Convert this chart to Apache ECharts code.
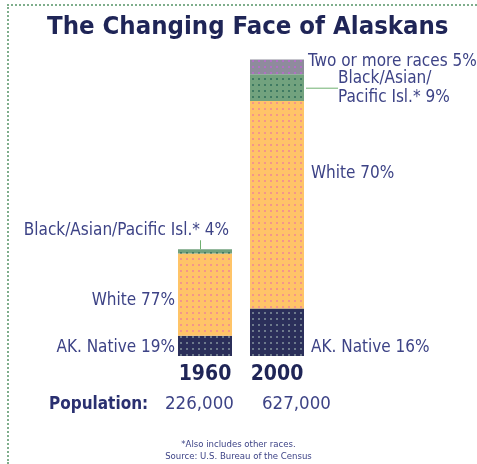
<!DOCTYPE html>
<html>
<head>
<meta charset="utf-8">
<script src="https://cdn.jsdelivr.net/npm/echarts@6/dist/echarts.min.js"></script>
<style>
  html, body { margin: 0; padding: 0; background: #fff; }
  #frame { position: absolute; left: 7px; top: 4px; width: 470px; height: 460px;
           border-left: 2px dotted #7fae8c; border-top: 2px dotted #7fae8c; box-sizing: border-box; }
  #chart { position: absolute; left: 0; top: 0; width: 477px; height: 464px; }
</style>
</head>
<body>
<div id="frame"></div>
<div id="chart"></div>
<script>
// ---- data ----
const titleText = 'The Changing Face of Alaskans';
const years = ['1960', '2000'];
const population = [226000, 627000];
const nativePct = [19, 16];
const whitePct = [77, 70];
const blackAsianPct = [4, 9];
const twoPlusPct = [0, 5];
const popLabel = 'Population:';
const footnote = ['*Also includes other races.', 'Source: U.S. Bureau of the Census'];

// segment values in thousands of people
const seg = pct => pct.map((p, i) => population[i] / 1000 * p / 100);

const FN = '"DejaVu Sans Condensed", "Liberation Sans Narrow", sans-serif';
const LABEL = '#3d4386';
const DARK = '#1f2557';
const LS = 17;

const dots = (color) => ({ symbol: 'rect', symbolSize: 1, color: color,
  dashArrayX: [2, 4], dashArrayY: [2, 4] });

const chart = echarts.init(document.getElementById('chart'), null, { renderer: 'canvas' });

const baseLbl = { show: true, color: LABEL, fontFamily: FN, fontSize: LS };

chart.setOption({
  animation: false,
  title: [
    { text: titleText, left: 42, top: 9,
      textStyle: { fontFamily: FN, fontWeight: 'bold', fontSize: 25.5, color: DARK } },
    { text: popLabel, left: 44, top: 391,
      textStyle: { fontFamily: FN, fontWeight: 'bold', fontSize: 17, color: '#2a3070' } },
    { text: population[0].toLocaleString('en-US'), left: 160, top: 390,
      textStyle: { fontFamily: FN, fontWeight: 'normal', fontSize: 18.5, color: LABEL } },
    { text: population[1].toLocaleString('en-US'), left: 257, top: 390,
      textStyle: { fontFamily: FN, fontWeight: 'normal', fontSize: 18.5, color: LABEL } },
    { text: footnote.join('\n'), left: 'center', top: 434,
      textStyle: { fontFamily: FN, fontWeight: 'normal', fontSize: 9.5, lineHeight: 12, color: LABEL } }
  ],
  grid: { left: 169, width: 144, top: 25, bottom: 108 },
  xAxis: {
    type: 'category', data: years,
    axisLine: { show: false }, axisTick: { show: false },
    axisLabel: { margin: 8, fontFamily: FN, fontWeight: 'bold', fontSize: 21, color: DARK }
  },
  yAxis: { type: 'value', min: 0, max: 700, show: false, splitLine: { show: false } },
  series: [
    {
      name: 'AK. Native', type: 'bar', stack: 'all', barWidth: 54,
      data: seg(nativePct).map((v, i) => ({
        value: v,
        label: i === 0
          ? { ...baseLbl, position: ['0%', '60%'], align: 'right', verticalAlign: 'middle', offset: [-3, 0],
              formatter: 'AK. Native ' + nativePct[i] + '%' }
          : { ...baseLbl, position: ['100%', '83%'], align: 'left', verticalAlign: 'middle', offset: [7, 0],
              formatter: 'AK. Native ' + nativePct[i] + '%' }
      })),
      itemStyle: { color: '#2b2f5a', decal: dots('#6d7a8c') }
    },
    {
      name: 'White', type: 'bar', stack: 'all',
      data: seg(whitePct).map((v, i) => ({
        value: v,
        label: i === 0
          ? { ...baseLbl, position: ['0%', '57%'], align: 'right', verticalAlign: 'middle', offset: [-3, 0],
              formatter: 'White ' + whitePct[i] + '%' }
          : { ...baseLbl, position: ['100%', '35%'], align: 'left', verticalAlign: 'middle', offset: [7, 0],
              formatter: 'White ' + whitePct[i] + '%' }
      })),
      itemStyle: { color: '#ffc468', decal: dots('#f4968a') }
    },
    {
      name: 'Black/Asian/Pacific Isl.*', type: 'bar', stack: 'all',
      data: seg(blackAsianPct).map((v, i) => ({
        value: v,
        label: i === 0
          ? { ...baseLbl, position: ['100%', 0], align: 'right', verticalAlign: 'bottom', offset: [-3, 0],
              formatter: '{t|Black/Asian/Pacific Isl.* ' + blackAsianPct[i] + '%}\n{tick|}{sp|}',
              rich: { t: { fontFamily: FN, fontSize: LS, color: LABEL, lineHeight: 20, align: 'right' },
                      tick: { width: 1, height: 9, backgroundColor: '#6fb070', align: 'right' },
                      sp: { width: 28, height: 9, align: 'right' } } }
          : { ...baseLbl, position: 'right', distance: 2,
              formatter: '{sp|}{t|Black/Asian/}\n{ln|}{t|Pacific Isl.* ' + blackAsianPct[i] + '%}',
              rich: { t: { fontFamily: FN, fontSize: LS, color: LABEL, lineHeight: 19 },
                      sp: { width: 32, height: 1 },
                      ln: { width: 28, height: 1, backgroundColor: '#6fb070', verticalAlign: 'top', padding: [0, 4, 0, 0] } } }
      })),
      itemStyle: { color: '#72a27e', decal: dots('#3f7a62') }
    },
    {
      name: 'Two or more races', type: 'bar', stack: 'all',
      data: seg(twoPlusPct).map((v, i) => ({
        value: v,
        label: i === 0 ? { show: false }
          : { ...baseLbl, position: ['100%', '12%'], align: 'left', verticalAlign: 'middle', offset: [4, 0],
              formatter: 'Two or more races ' + twoPlusPct[i] + '%' }
      })),
      itemStyle: { color: '#8e8b9c', decal: dots('#b070c4') }
    }
  ]
});
</script>
</body>
</html>
